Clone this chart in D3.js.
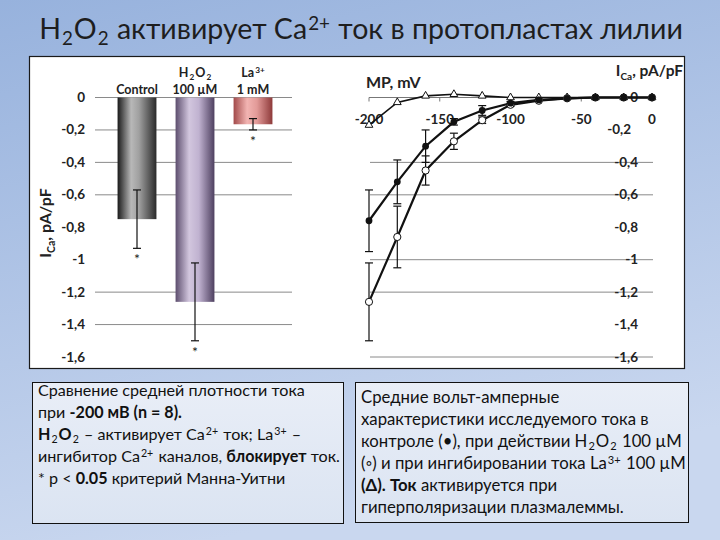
<!DOCTYPE html>
<html><head><meta charset="utf-8">
<script src="https://cdn.jsdelivr.net/npm/d3@7"></script>
<style>body{margin:0;background:#fff;} svg{display:block;}</style>
</head><body>
<svg id="c" width="720" height="540"></svg>
<script>
// ---------- data ----------
const barCategories = ["Control", "H2O2", "La3+"];
const barValues = [-0.75, -1.26, -0.165];
const barErrors = [0.18, 0.24, 0.035];
const yTickValues = [0, -0.2, -0.4, -0.6, -0.8, -1, -1.2, -1.4, -1.6];
const leftGridValues = [0, -0.2, -0.4, -0.6, -1.2, -1.4];
const rightGridValues = [-0.4, -0.6, -1, -1.2, -1.6];
const xTickValues = [-200, -150, -100, -50, 0];
const voltages = [-200, -180, -160, -140, -120, -100, -80, -60, -40, -20, 0];
const controlI = [-0.76, -0.52, -0.30, -0.15, -0.08, -0.035, -0.015, -0.005, 0, 0, 0];
const controlErr = [0.19, 0.135, 0.10, 0.02, 0.03, 0.01, 0, 0, 0, 0, 0];
const h2o2I = [-1.26, -0.86, -0.45, -0.27, -0.14, -0.045, -0.02, -0.005, 0, 0, 0];
const h2o2Err = [0.24, 0.19, 0.09, 0.05, 0.02, 0.01, 0, 0, 0, 0, 0];
const laI = [-0.17, -0.03, 0.01, 0.02, 0.01, 0, 0, 0, 0, 0, 0];

const FONT = "Lato, 'Open Sans', sans-serif";
const svg = d3.select("#c");
const defs = svg.append("defs");

// background
const bg = defs.append("linearGradient").attr("id","bg").attr("x1",0).attr("y1",0).attr("x2",0.3).attr("y2",1);
bg.append("stop").attr("offset","0%").attr("stop-color","#97b2dd");
bg.append("stop").attr("offset","100%").attr("stop-color","#c9d7ef");
svg.append("rect").attr("width",720).attr("height",540).attr("fill","url(#bg)");

function hGrad(id, stops){
  const g = defs.append("linearGradient").attr("id",id).attr("x1",0).attr("x2",1).attr("y1",0).attr("y2",0);
  stops.forEach(([o,c])=>g.append("stop").attr("offset",o).attr("stop-color",c));
}
hGrad("gCtrl",[["0%","#1a1a1a"],["35%","#b8b8b8"],["55%","#a0a0a0"],["100%","#2a2a2a"]]);
hGrad("gH2",[["0%","#5d4e6e"],["35%","#d2c6de"],["60%","#c0b2d0"],["100%","#4e4060"]]);
hGrad("gLa",[["0%","#a24a4a"],["35%","#f2b4b2"],["60%","#e29a98"],["100%","#8e3a3a"]]);
const barFills = ["url(#gCtrl)","url(#gH2)","url(#gLa)"];

// rich text helper: segments [text, mode] mode: ""|"sub"|"sup"|"b"
function rich(sel, x, y, segs, size, anchor, weight){
  const t = sel.append("text").attr("x",x).attr("y",y).attr("font-family",FONT)
    .attr("font-size",size).attr("fill","#111").attr("text-anchor",anchor||"start")
    .attr("font-weight",weight||"normal");
  let prev = "";
  const shift = m => m==="sub"? size*0.2 : m==="sup"? -size*0.3 : 0;
  segs.forEach(s=>{
    const [txt, mode] = Array.isArray(s)? s : [s, ""];
    const ts = t.append("tspan").text(txt);
    const dy = shift(mode) - shift(prev);
    if (dy) ts.attr("dy", dy);
    if (mode==="sub"||mode==="sup") ts.attr("font-size", size*0.66);
    if ((mode==="sub"||mode==="sup") || prev==="sub" || prev==="sup") ts.attr("dx", 1);
    if (mode==="b") ts.attr("font-weight","bold");
    prev = (mode==="sub"||mode==="sup")? mode : "";
  });
  return t;
}
function setSize(t, ns){
  const cur = +t.attr("font-size");
  t.attr("font-size", ns);
  t.selectAll("tspan").each(function(){
    const s = d3.select(this);
    if (s.attr("font-size")) s.attr("font-size", ns*0.66);
    if (s.attr("dy")) s.attr("dy", +s.attr("dy")*ns/cur);
  });
}

// title
const title = rich(svg, 361, 39, ["H",["2","sub"],"O",["2","sub"]," активирует Ca",["2+","sup"]," ток в протопластах лилии"], 28, "middle");
title.attr("fill","#1e1e1e");
setSize(title, 28*638/title.node().getComputedTextLength());

// chart panel
svg.append("rect").attr("x",29.5).attr("y",56.5).attr("width",655).attr("height",312)
  .attr("fill","#ffffff").attr("stroke","#1a1a1a").attr("stroke-width",1.2);

// shared y scale
const y = d3.scaleLinear().domain([0,-1.6]).range([97.5,357]);
const fmt = v => String(v).replace(".",",");

// ---------- left bar chart ----------
const L = svg.append("g");
L.selectAll("line.grid").data(leftGridValues).join("line")
  .attr("x1",95).attr("x2",292).attr("y1",d=>y(d)).attr("y2",d=>y(d))
  .attr("stroke","#8a8a8a").attr("stroke-width",1);
L.selectAll("text.yt").data(yTickValues).join("text")
  .attr("x",85).attr("y",d=>y(d)+4.5).attr("text-anchor","end")
  .attr("font-family",FONT).attr("font-weight","bold").attr("font-size",13.5).attr("fill","#222")
  .text(fmt);
const xb = d3.scaleBand().domain(barCategories).range([108,282]).paddingInner(0.33).paddingOuter(0.165);
L.selectAll("rect.bar").data(barValues).join("rect")
  .attr("x",(d,i)=>xb(barCategories[i])).attr("width",xb.bandwidth())
  .attr("y",y(0)).attr("height",d=>y(d)-y(0))
  .attr("fill",(d,i)=>barFills[i]);
// error bars
barValues.forEach((v,i)=>{
  const cx = xb(barCategories[i]) + xb.bandwidth()/2;
  const e = barErrors[i];
  L.append("line").attr("x1",cx).attr("x2",cx).attr("y1",y(v+e)).attr("y2",y(v-e)).attr("stroke","#111").attr("stroke-width",1.2);
  [v+e, v-e].forEach(c=>L.append("line").attr("x1",cx-4).attr("x2",cx+4).attr("y1",y(c)).attr("y2",y(c)).attr("stroke","#111").attr("stroke-width",1.2));
  L.append("text").attr("x",cx).attr("y",y(v-e)+16).attr("text-anchor","middle")
    .attr("font-family",FONT).attr("font-size",14).attr("fill","#222").text("*");
});
// column labels
const labLines = [[["Control"]],[["H",["2","sub"],"O",["2","sub"]],["100 µM"]],[["La",["3+","sup"]],["1 mM"]]];
labLines.forEach((lines,i)=>{
  const cx = xb(barCategories[i]) + xb.bandwidth()/2;
  const n = lines.length;
  lines.forEach((segs,j)=>{
    rich(L, cx, 94 - (n-1-j)*17, segs, 12.5, "middle", "bold").attr("fill","#222");
  });
});
// y title
const yt = L.append("text").attr("transform","translate(51,223) rotate(-90)").attr("text-anchor","middle")
  .attr("font-family",FONT).attr("font-weight","bold").attr("font-size",16).attr("fill","#222");
yt.append("tspan").text("I");
yt.append("tspan").text("Ca").attr("font-size",10.5).attr("dy",3.5);
yt.append("tspan").text(", pA/pF").attr("dy",-3.5);

// ---------- right I-V chart ----------
const R = svg.append("g");
const x = d3.scaleLinear().domain([-200,0]).range([369,652]);
R.selectAll("line.grid").data(rightGridValues).join("line")
  .attr("x1",370).attr("x2",653).attr("y1",d=>y(d)).attr("y2",d=>y(d))
  .attr("stroke","#8a8a8a").attr("stroke-width",1);
R.append("line").attr("x1",x(-200)).attr("x2",x(0)).attr("y1",y(0)).attr("y2",y(0)).attr("stroke","#777").attr("stroke-width",1);
R.selectAll("line.xt").data(xTickValues).join("line")
  .attr("x1",d=>x(d)).attr("x2",d=>x(d)).attr("y1",y(0)).attr("y2",y(0)+4).attr("stroke","#777");
R.selectAll("text.xtl").data(xTickValues).join("text")
  .attr("x",d=>x(d)).attr("y",y(0)+26).attr("text-anchor","middle")
  .attr("font-family",FONT).attr("font-weight","bold").attr("font-size",13.5).attr("fill","#222")
  .text(d=>String(d));
R.selectAll("text.yt").data(yTickValues).join("text")
  .attr("x",d=>d===-0.2?631:638).attr("y",d=>y(d)+4.5).attr("text-anchor","end")
  .attr("font-family",FONT).attr("font-weight","bold").attr("font-size",13.5).attr("fill","#222")
  .text(fmt);
R.append("text").attr("x",366).attr("y",88).attr("font-family",FONT).attr("font-weight","bold")
  .attr("font-size",16).attr("fill","#222").text("MP, mV");
const rt = R.append("text").attr("x",683).attr("y",76).attr("text-anchor","end").attr("font-family",FONT)
  .attr("font-weight","bold").attr("font-size",15.5).attr("fill","#222");
rt.append("tspan").text("I");
rt.append("tspan").text("Ca").attr("font-size",10).attr("dy",3.5);
rt.append("tspan").text(", pA/pF").attr("dy",-3.5);

function errBars(vals, errs){
  vals.forEach((v,i)=>{
    const e = errs[i]; if (!e) return;
    const cx = x(voltages[i]);
    R.append("line").attr("x1",cx).attr("x2",cx).attr("y1",y(v+e)).attr("y2",y(v-e)).attr("stroke","#111").attr("stroke-width",1.2);
    [v+e,v-e].forEach(c=>R.append("line").attr("x1",cx-4).attr("x2",cx+4).attr("y1",y(c)).attr("y2",y(c)).attr("stroke","#111").attr("stroke-width",1.2));
  });
}
errBars(controlI, controlErr);
errBars(h2o2I, h2o2Err);

const line = vals => d3.line().x((d,i)=>x(voltages[i])).y(d=>y(d))(vals);
R.append("path").attr("d",line(laI)).attr("fill","none").attr("stroke","#111").attr("stroke-width",1.6);
R.append("path").attr("d",line(h2o2I)).attr("fill","none").attr("stroke","#111").attr("stroke-width",2.2);
R.append("path").attr("d",line(controlI)).attr("fill","none").attr("stroke","#111").attr("stroke-width",2.2);
R.selectAll("path.tri").data(laI).join("path")
  .attr("d",d3.symbol(d3.symbolTriangle,26))
  .attr("transform",(d,i)=>`translate(${x(voltages[i])},${y(d)})`)
  .attr("fill","#fff").attr("stroke","#111").attr("stroke-width",1);
R.selectAll("circle.h2").data(h2o2I).join("circle")
  .attr("cx",(d,i)=>x(voltages[i])).attr("cy",d=>y(d)).attr("r",3.6)
  .attr("fill","#fff").attr("stroke","#111").attr("stroke-width",1);
R.selectAll("circle.ct").data(controlI).join("circle")
  .attr("cx",(d,i)=>x(voltages[i])).attr("cy",d=>y(d)).attr("r",3.4)
  .attr("fill","#111");

// ---------- text boxes ----------
const tb = defs.append("linearGradient").attr("id","tb").attr("x1",0).attr("y1",0).attr("x2",0).attr("y2",1);
tb.append("stop").attr("offset","0%").attr("stop-color","#e9eef7");
tb.append("stop").attr("offset","100%").attr("stop-color","#dbe4f2");
svg.append("rect").attr("x",32.5).attr("y",382.5).attr("width",311).attr("height",141)
  .attr("fill","url(#tb)").attr("stroke","#111").attr("stroke-width",1);
svg.append("rect").attr("x",355.5).attr("y",382.5).attr("width",333).attr("height",140)
  .attr("fill","url(#tb)").attr("stroke","#111").attr("stroke-width",1);

const leftLines = [
  ["Сравнение средней плотности тока"],
  ["при ",["-200 мВ (n = 8).","b"]],
  [["H","b"],["2","sub"],["O","b"],["2","sub"]," – активирует Ca",["2+","sup"]," ток; La",["3+","sup"]," –"],
  ["ингибитор Ca",["2+","sup"]," каналов, ",["блокирует","b"]," ток."],
  ["* p < ",["0.05","b"]," критерий Манна-Уитни"]
];
const rightLines = [
  ["Средние вольт-амперные"],
  ["характеристики исследуемого тока в"],
  ["контроле (•), при действии H",["2","sub"],"O",["2","sub"]," 100 µM"],
  ["(◦) и при ингибировании тока La",["3+","sup"]," 100 µM"],
  [["(Δ). Ток","b"]," активируется при"],
  ["гиперполяризации плазмалеммы."]
];
const leftT = leftLines.map((segs,i)=>rich(svg, 38, 396+i*22, segs, 14));
const rightT = rightLines.map((segs,i)=>rich(svg, 361, 403+i*22, segs, 14));
const sL = 14*300/leftT[3].node().getComputedTextLength();
const sR = 14*323/rightT[3].node().getComputedTextLength();
leftT.forEach(t=>setSize(t,sL));
rightT.forEach(t=>setSize(t,sR));
</script>
</body></html>
